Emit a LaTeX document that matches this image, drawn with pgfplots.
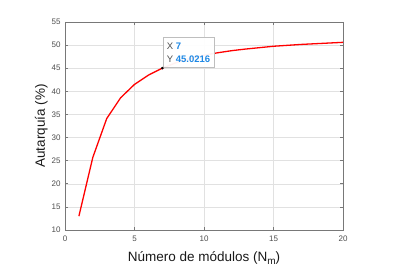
\documentclass[border=0pt]{standalone}
\usepackage{pgfplots}
\pgfplotsset{compat=1.18}
\usepackage{fontspec}
\setmainfont{Liberation Sans}
\definecolor{axgray}{RGB}{120,120,120}
\definecolor{ticklab}{RGB}{77,77,77}
\definecolor{gridc}{RGB}{225,225,225}
\definecolor{tipblue}{RGB}{30,136,229}
\begin{document}
\begin{tikzpicture}
\path[use as bounding box] (-65pt,-42pt) rectangle (330pt,230pt);
\begin{axis}[
  scale only axis,
  width=278pt, height=208pt,
  xmin=0, xmax=20, ymin=10, ymax=55,
  xtick={0,5,10,15,20},
  ytick={10,15,20,25,30,35,40,45,50,55},
  grid=major,
  major grid style={gridc, line width=0.5pt},
  axis line style={axgray, line width=0.6pt},
  tick style={axgray, line width=0.6pt},
  tick align=inside,
  major tick length=3pt,
  tick pos=both,
  /pgf/number format/assume math mode=true,
  tick label style={font=\fontsize{8}{9}\selectfont, text=ticklab},
  xticklabel style={yshift=-2pt},
  yticklabel style={xshift=-1pt},
  xlabel={Número de módulos (N\raisebox{-3.5pt}{\fontsize{10}{10}\selectfont m})},
  ylabel={Autarquía (\%)},
  label style={font=\fontsize{13.5}{15}\selectfont, text=black!90},
  xlabel style={yshift=-3pt},
  ylabel style={yshift=-3pt},
]
\addplot[red, line width=1.3pt] coordinates {
(1,13.0) (2,25.7) (3,34.1) (4,38.6) (5,41.5) (6,43.5) (7,45.0216)
(8,46.2) (9,47.1) (10,47.8) (11,48.35) (12,48.8) (13,49.15) (14,49.45)
(15,49.75) (16,49.95) (17,50.15) (18,50.3) (19,50.45) (20,50.6)
};
\addplot[only marks, mark=*, mark size=1.1pt, black] coordinates {(7,45.0216)};
\node[anchor=south west, draw={rgb,255:red,190;green,190;blue,190}, line width=0.6pt, fill=white, fill opacity=0.95, text opacity=1,
  inner xsep=4pt, inner ysep=5pt, align=left, font=\fontsize{9.5}{13}\selectfont, xshift=0.3pt, yshift=0.5pt]
  at (axis cs:7,45.0216) {{\color{ticklab}X} {\color{tipblue}\textbf{7}}\\{\color{ticklab}Y} {\color{tipblue}\textbf{45.0216}}};
\end{axis}
\end{tikzpicture}
\end{document}
